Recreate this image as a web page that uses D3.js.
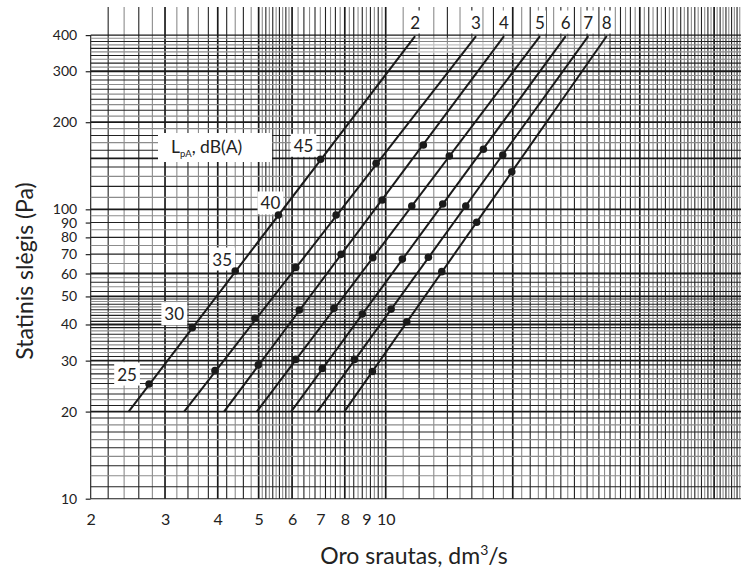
<!DOCTYPE html>
<html>
<head>
<meta charset="utf-8">
<script src="https://cdn.jsdelivr.net/npm/d3@7"></script>
<style>
  body { margin: 0; background: #fff; }
  text { font-family: Lato, "Open Sans", sans-serif; fill: #222; }
</style>
</head>
<body>
<svg width="741" height="572"></svg>
<script>
// tick labels
var xTicks = [2, 3, 4, 5, 6, 7, 8, 9, 10];
var yTicks = [10, 20, 30, 40, 50, 60, 70, 80, 90, 100, 200, 300, 400];

// system curves 2..8, straight lines on log-log paper
var curveNames = ["2", "3", "4", "5", "6", "7", "8"];
var curveEndP = [20, 397];                                     // pressure at both ends
var curveQlow = [2.46, 3.33, 4.14, 4.95, 5.97, 6.89, 7.98];    // flow at 20 Pa
var curveQhigh = [11.74, 16.37, 19.07, 23.21, 26.70, 30.20, 33.40]; // flow at top

// noise level marks LpA, dB(A)
var levels = ["25", "30", "35", "40", "45"];
var dotQ = [
  [2.75, 3.48, 4.40, 5.57, 7.01],
  [3.94, 4.90, 6.12, 7.63, 9.49],
  [4.99, 6.24, 7.84, 9.82, 12.28],
  [6.12, 7.54, 9.32, 11.53, 14.15],
  [7.08, 8.80, 10.95, 13.65, 17.04],
  [8.43, 10.30, 12.62, 15.48, 18.94],
  [9.30, 11.22, 13.58, 16.43, 19.89]
];
var dotP = [
  [24.9, 39.0, 61.2, 95.6, 148.9],
  [27.7, 42.0, 63.0, 95.6, 144.2],
  [29.0, 44.9, 69.9, 107.7, 166.8],
  [30.3, 45.5, 68.0, 102.7, 152.8],
  [28.2, 43.5, 67.3, 104.3, 161.2],
  [30.3, 45.2, 68.3, 102.7, 154.0],
  [27.5, 40.9, 60.9, 90.2, 134.9]
];

// log paper rulings: [from, to, step]
var gridXParts = [[2, 5, 0.2], [5, 6, 0.1], [6, 10, 0.2], [10, 70, 1]];
var gridYParts = [[10, 50, 1], [50, 60, 2], [60, 100, 5], [100, 400, 10]];
var majorX = [3, 4, 5, 6, 8, 10, 20, 40, 60];
var majorY = [20, 30, 40, 50, 60, 100, 150, 200, 300];

var svg = d3.select("svg");
var W = 741;

var x = d3.scaleLog().domain([2, 10]).range([90.7, 385.7]);
var y = d3.scaleLog().domain([10, 400]).range([498.7, 35.1]);

function rulings(parts) {
  var out = [];
  parts.forEach(function(p) {
    d3.range(p[0], p[1] + 1e-9, p[2]).forEach(function(v) {
      v = +v.toFixed(2);
      if (out.indexOf(v) < 0) out.push(v);
    });
  });
  return out;
}

var gx = rulings(gridXParts).filter(function(v) { return x(v) <= W; });
var gy = rulings(gridYParts);

var grid = svg.append("g");

grid.selectAll(".vl")
  .data(gx)
  .enter().append("line")
    .attr("class", "vl")
    .attr("x1", function(d) { return x(d); })
    .attr("x2", function(d) { return x(d); })
    .attr("y1", function(d) { return d == 2 ? y(400) : 7; })
    .attr("y2", y(10))
    .attr("stroke", function(d, i) {
      if (majorX.indexOf(d) >= 0 || d == 2) return "#1a1a1a";
      return i % 2 ? "#222" : "#8c8c8c";
    })
    .attr("stroke-width", function(d) { return majorX.indexOf(d) >= 0 ? 1.7 : 1.1; });

grid.selectAll(".hl")
  .data(gy)
  .enter().append("line")
    .attr("class", "hl")
    .attr("x1", x(2))
    .attr("x2", W)
    .attr("y1", function(d) { return y(d); })
    .attr("y2", function(d) { return y(d); })
    .attr("stroke", function(d, i) {
      if (majorY.indexOf(d) >= 0 || d == 10 || d == 400) return "#1a1a1a";
      return i % 2 ? "#222" : "#8c8c8c";
    })
    .attr("stroke-width", function(d) { return majorY.indexOf(d) >= 0 ? 1.8 : 1.1; });

// faded strip just under the curve labels
svg.append("rect")
  .attr("x", x(curveQhigh[0]) + 2)
  .attr("y", y(curveEndP[1]) + 3)
  .attr("width", x(curveQhigh[6]) - x(curveQhigh[0]))
  .attr("height", 14)
  .attr("fill", "#fff")
  .attr("opacity", 0.45);

// axes
var yAxis = svg.append("g")
  .attr("transform", "translate(" + x(2) + ",0)")
  .call(d3.axisLeft(y).tickValues(yTicks).tickFormat(d3.format("d")).tickSize(5).tickPadding(8.5));
yAxis.select(".domain").remove();
yAxis.selectAll("line").attr("stroke", "#222").attr("stroke-width", 1.2);
yAxis.selectAll("text").style("font-size", "14px").attr("fill", "#222");

var xAxis = svg.append("g")
  .attr("transform", "translate(0," + y(10) + ")")
  .call(d3.axisBottom(x).tickValues(xTicks).tickFormat(d3.format("d")).tickSize(0).tickPadding(15));
xAxis.select(".domain").remove();
xAxis.selectAll("text").style("font-size", "16px").attr("fill", "#222");

function boxedText(g, tx, ty, str, size, pad) {
  var t = g.append("text")
    .attr("x", tx).attr("y", ty)
    .attr("text-anchor", "middle")
    .attr("dominant-baseline", "central")
    .style("font-size", size + "px")
    .text(str);
  var b = t.node().getBBox();
  g.insert("rect", "text")
    .attr("x", b.x - pad).attr("y", b.y - 1)
    .attr("width", b.width + 2 * pad).attr("height", b.height + 2)
    .attr("fill", "#fff");
  return t;
}

// curve names at the top
curveNames.forEach(function(name, i) {
  boxedText(svg.append("g"), x(curveQhigh[i]), 22, name, 17, 1);
});

// level labels beside curve 2
var levelOffset = [[-22, -10], [-18, -14], [-13, -12], [-8, -12], [-17, -14]];
levels.forEach(function(lv, j) {
  boxedText(svg.append("g"), x(dotQ[0][j]) + levelOffset[j][0], y(dotP[0][j]) + levelOffset[j][1], lv, 17, 3);
});

// legend title
svg.append("rect")
  .attr("x", 158).attr("y", 133).attr("width", 114).attr("height", 29)
  .attr("fill", "#fff");
var lt = svg.append("text")
  .attr("x", 171).attr("y", 153)
  .style("font-size", "17.5px");
lt.append("tspan").text("L");
lt.append("tspan").attr("dy", 4).style("font-size", "9.5px").text("pA");
lt.append("tspan").attr("dy", -4).text(", dB(A)");

// curves and dots on top of the labels' boxes
var curves = svg.append("g");
curveNames.forEach(function(name, i) {
  var pts = [[curveQlow[i], curveEndP[0]], [curveQhigh[i], curveEndP[1]]];
  curves.append("path")
    .attr("d", d3.line().x(function(d) { return x(d[0]); }).y(function(d) { return y(d[1]); })(pts))
    .attr("fill", "none")
    .attr("stroke", "#1a1a1a")
    .attr("stroke-width", 2);

  curves.selectAll(".dot" + i)
    .data(dotQ[i].map(function(q, j) { return [q, dotP[i][j]]; }))
    .enter().append("circle")
      .attr("cx", function(d) { return x(d[0]); })
      .attr("cy", function(d) { return y(d[1]); })
      .attr("r", 3.8)
      .attr("fill", "#1a1a1a");
});

// axis titles
var xt = svg.append("text")
  .attr("x", 414).attr("y", 564)
  .attr("text-anchor", "middle")
  .style("font-size", "23px");
xt.append("tspan").text("Oro srautas, dm");
xt.append("tspan").attr("dy", -9).style("font-size", "14px").text("3");
xt.append("tspan").attr("dy", 9).text("/s");

svg.append("text")
  .attr("transform", "translate(33,271) rotate(-90)")
  .attr("text-anchor", "middle")
  .style("font-size", "23px")
  .text("Statinis slėgis (Pa)");
</script>
</body>
</html>
